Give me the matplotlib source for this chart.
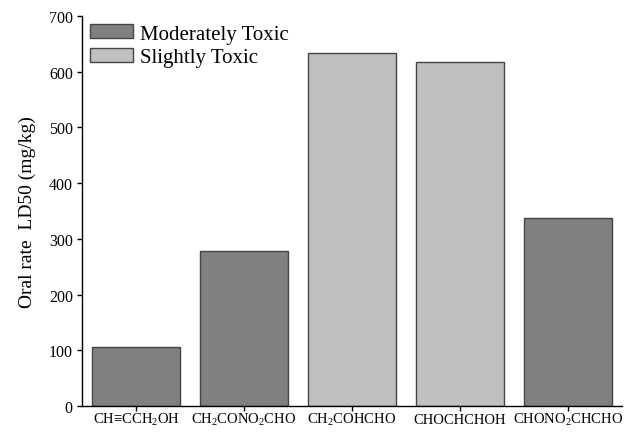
import matplotlib
matplotlib.use("Agg")
import matplotlib.pyplot as plt
from matplotlib.patches import Patch

plt.rcParams["font.family"] = ["Liberation Serif", "DejaVu Serif"]
plt.rcParams["mathtext.fontset"] = "custom"
plt.rcParams["mathtext.rm"] = "Liberation Serif"
plt.rcParams["mathtext.it"] = "Liberation Serif:italic"

# data
compounds = ["CH≡CCH$_2$OH", "CH$_2$CONO$_2$CHO", "CH$_2$COHCHO",
             "CHOCHCHOH", "CHONO$_2$CHCHO"]
ld50 = [106, 278, 634, 617, 337]
toxicity = ["Moderately Toxic", "Moderately Toxic", "Slightly Toxic",
            "Slightly Toxic", "Moderately Toxic"]
yticks = [0, 100, 200, 300, 400, 500, 600, 700]

colors = {"Moderately Toxic": "#808080", "Slightly Toxic": "#c0c0c0"}
edge = "#454545"

fig = plt.figure(figsize=(6.33, 4.35), dpi=100)
ax = fig.add_axes([0.1295, 0.0644, 0.853, 0.8966])

x = range(len(compounds))
ax.bar(x, ld50, width=0.81, color=[colors[t] for t in toxicity],
       edgecolor=edge, linewidth=1.0)

ax.set_xlim(-0.5, 4.5)
ax.set_ylim(0, 700)
ax.set_yticks(yticks)
ax.set_xticks(list(x))
ax.set_xticklabels(compounds, fontsize=10.5)
for lbl in ax.get_xticklabels():
    lbl.set_verticalalignment("baseline")
ax.tick_params(axis="y", labelsize=11.5, direction="out", length=3.6, width=1, pad=3)
ax.tick_params(axis="x", direction="out", length=3.6, width=1, pad=8.5)
for side in ("top", "right"):
    ax.spines[side].set_visible(False)
for side in ("left", "bottom"):
    ax.spines[side].set_linewidth(1.0)

ax.set_ylabel("Oral rate  LD50 (mg/kg)", fontsize=14, labelpad=9)

handles = [Patch(facecolor=colors[k], edgecolor=edge, linewidth=1.0, label=k)
           for k in ("Moderately Toxic", "Slightly Toxic")]
ax.legend(handles=handles, loc="upper left", bbox_to_anchor=(0.0, 1.0),
          frameon=False, fontsize=15, handlelength=2.07, handleheight=0.67,
          handletextpad=0.3, labelspacing=0.2, borderpad=0, borderaxespad=0.4)

fig.savefig("out.png", dpi=100)
